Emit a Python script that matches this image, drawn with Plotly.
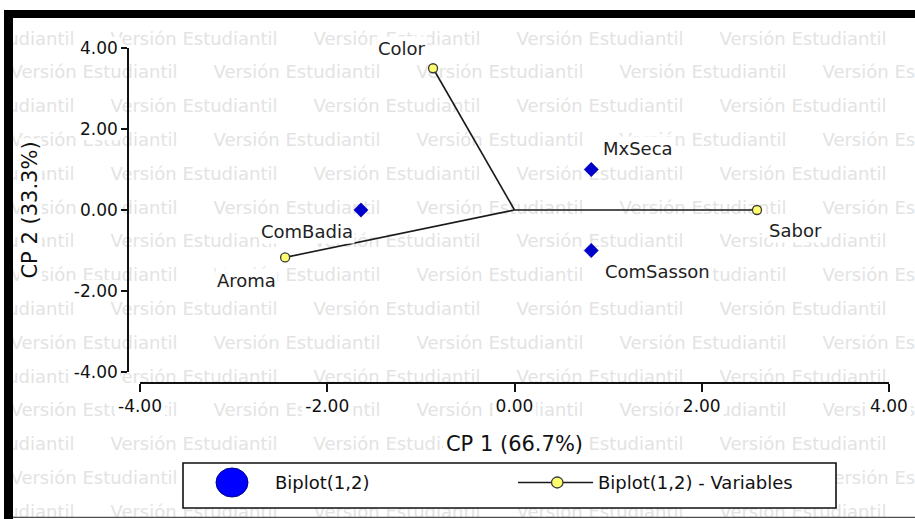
import plotly.graph_objects as go

# ---------------- data ----------------
obs_names = ["MxSeca", "ComBadia", "ComSasson"]
obs_cp1 = [0.82, -1.64, 0.82]
obs_cp2 = [1.00, 0.00, -1.00]

var_names = ["Color", "Sabor", "Aroma"]
var_cp1 = [-0.87, 2.59, -2.45]
var_cp2 = [3.50, 0.00, -1.17]

tick_vals = [-4, -2, 0, 2, 4]
tick_text = ["-4.00", "-2.00", "0.00", "2.00", "4.00"]

x_title = "CP 1 (66.7%)"
y_title = "CP 2 (33.3%)"
legend_labels = ["Biplot(1,2)", "Biplot(1,2) - Variables"]
watermark = "Versión Estudiantil"

# ---------------- geometry / style ----------------
FONT = "DejaVu Sans"
W, H = 915, 519
PX0, PX1 = 140, 889       # x = -4 .. 4 (pixels)
PY0, PY1 = 372, 48        # y = -4 .. 4 (pixels)
YAXIS_X = 128             # detached y axis line
XAXIS_Y = 383             # detached x axis line
XR = [-4, 4]
YR = [-4, 4]
TICK_FS = 17
TITLE_FS = 21


def fx(X):
    return X / W


def fy(Y):
    return (H - Y) / H


def to_px_x(v):
    return PX0 + (v - XR[0]) / (XR[1] - XR[0]) * (PX1 - PX0)


def to_px_y(v):
    return PY0 - (v - YR[0]) / (YR[1] - YR[0]) * (PY0 - PY1)


def text_w(s, size):
    cw = {"-": .361, ".": .318, " ": .318, "(": .39, ")": .39, "%": .95, "C": .698, "P": .603}
    return sum(cw.get(c, .636) for c in s) * size


fig = go.Figure()

# ---- watermark (decoration) on a full-figure pixel subplot (x / y), drawn first ----
wx, wy = [], []
for i in range(15):
    Y = 40 + i * 33.8
    base = 194 if i % 2 == 0 else 94
    for k in range(-1, 5):
        wx.append(base + k * 203)
        wy.append(Y)
fig.add_trace(go.Scatter(
    x=wx, y=wy, xaxis="x", yaxis="y", mode="text", text=[watermark] * len(wx),
    textfont=dict(family=FONT, size=18, color="#e3e3e3"),
    cliponaxis=True, hoverinfo="skip", showlegend=False))

# white patches behind tick labels and axis titles (hide the watermark there)
bx, by = [], []


def patch(X0, Y0, X1, Y1):
    bx.extend([X0, X1, X1, X0, X0, None])
    by.extend([Y0, Y0, Y1, Y1, Y0, None])


for v, t in zip(tick_vals, tick_text):
    w = text_w(t, TICK_FS)
    cx = to_px_x(v)
    patch(cx - w / 2 - 3, 397, cx + w / 2 + 3, 418)
    cy = to_px_y(v)
    patch(117 - w - 3, cy - 11, 120, cy + 11)
w = text_w(x_title, TITLE_FS)
cx = (PX0 + PX1) / 2
patch(cx - w / 2 - 3, 431, cx + w / 2 + 3, 456)
w = text_w(y_title, TITLE_FS)
cy = (PY0 + PY1) / 2
patch(19, cy - w / 2 - 3, 42, cy + w / 2 + 3)
fig.add_trace(go.Scatter(x=bx, y=by, xaxis="x", yaxis="y", mode="lines", fill="toself",
                         fillcolor="white", line=dict(width=0), hoverinfo="skip",
                         showlegend=False))

# ---- biplot on subplot x2 / y2 ----
lx, ly = [], []
for vx, vy in zip(var_cp1, var_cp2):
    lx += [0, vx, None]
    ly += [0, vy, None]
fig.add_trace(go.Scatter(x=lx, y=ly, xaxis="x2", yaxis="y2", mode="lines",
                         line=dict(color="#1a1a1a", width=1.6),
                         hoverinfo="skip", showlegend=False))
fig.add_trace(go.Scatter(x=var_cp1, y=var_cp2, xaxis="x2", yaxis="y2", mode="markers",
                         name=legend_labels[1], text=var_names,
                         marker=dict(symbol="circle", size=9, color="#ffff70",
                                     line=dict(color="#3a3a3a", width=1.3)),
                         showlegend=False))
fig.add_trace(go.Scatter(x=obs_cp1, y=obs_cp2, xaxis="x2", yaxis="y2", mode="markers",
                         name=legend_labels[0], text=obs_names,
                         marker=dict(symbol="diamond", size=11, color="#0000cd",
                                     line=dict(color="#0000a0", width=0.5)),
                         showlegend=False))

# point labels
place = {
    "Color": ("right", -5, 20),
    "MxSeca": ("left", 10, 21),
    "ComBadia": ("right", -6, -22),
    "Aroma": ("right", -7, -23),
    "Sabor": ("left", 10, -21),
    "ComSasson": ("left", 12, -21),
}
annotations = []
for names, xs, ys in ((var_names, var_cp1, var_cp2), (obs_names, obs_cp1, obs_cp2)):
    for n, x, y in zip(names, xs, ys):
        anc, sx, sy = place[n]
        annotations.append(dict(
            x=x, y=y, xref="x2", yref="y2", text=n, showarrow=False,
            xanchor=anc, yanchor="middle", xshift=sx, yshift=sy,
            bgcolor="white", borderpad=1,
            font=dict(family=FONT, size=18, color="#222222")))

shapes = []


def rect(X0, Y0, X1, Y1, kind="rect", **kw):
    shapes.append(dict(type=kind, xref="paper", yref="paper",
                       x0=fx(X0), x1=fx(X1), y0=fy(Y1), y1=fy(Y0), layer="above", **kw))


# frame
rect(0, 0, 4, H, fillcolor="white", line=dict(width=0))
rect(0, 0, W, 10, fillcolor="white", line=dict(width=0))
rect(4, 10, W, 18, fillcolor="black", line=dict(width=0))
rect(4, 10, 13, H, fillcolor="black", line=dict(width=0))
rect(13, 518, W, H, fillcolor="white", line=dict(width=0))
rect(13, 516.8, W, 518, fillcolor="#505050", line=dict(width=0))

# legend (manual, to reproduce the large symbols)
rect(183, 463, 836, 508, fillcolor="white", line=dict(color="#111111", width=1.6))
rect(216, 468, 248, 497, kind="circle", fillcolor="#0000ff",
     line=dict(color="#00008b", width=1))
shapes.append(dict(type="line", xref="paper", yref="paper", x0=fx(518), x1=fx(593),
                   y0=fy(482.5), y1=fy(482.5), layer="above",
                   line=dict(color="#1a1a1a", width=1.6)))
rect(551.5, 477, 563, 488, kind="circle", fillcolor="#ffff70",
     line=dict(color="#3a3a3a", width=1.3))
for lbl, X in zip(legend_labels, [273, 596]):
    annotations.append(dict(x=fx(X), y=fy(482.5), xref="paper", yref="paper", text=lbl,
                            showarrow=False, xanchor="left", yanchor="middle",
                            font=dict(family=FONT, size=18, color="#111111")))

axis_common = dict(
    anchor="free", showline=True, linecolor="#111111",
    linewidth=1.6, ticks="outside", tickcolor="#111111", tickwidth=1.6,
    tickvals=tick_vals, ticktext=tick_text, showgrid=False, zeroline=False,
    tickfont=dict(family=FONT, size=TICK_FS, color="#111111"),
)
hidden = dict(visible=False, showgrid=False, zeroline=False, fixedrange=True)

fig.update_layout(
    width=W, height=H, margin=dict(l=0, r=0, t=0, b=0, autoexpand=False),
    paper_bgcolor="white", plot_bgcolor="rgba(0,0,0,0)",
    showlegend=False,
    xaxis=dict(hidden, domain=[0, 1], range=[0, W]),
    yaxis=dict(hidden, domain=[0, 1], range=[H, 0]),
    xaxis2=dict(axis_common, domain=[fx(PX0), fx(PX1)], range=XR, ticklen=8,
                position=fy(XAXIS_Y),
                title=dict(text=x_title, standoff=20,
                           font=dict(family=FONT, size=TITLE_FS, color="#111111"))),
    yaxis2=dict(axis_common, domain=[fy(PY0), fy(PY1)], range=YR, ticklen=6,
                position=fx(YAXIS_X),
                title=dict(text=y_title, standoff=29,
                           font=dict(family=FONT, size=TITLE_FS, color="#111111"))),
    shapes=shapes, annotations=annotations,
    font=dict(family=FONT),
)

fig.write_html("out.html", config={"displayModeBar": False},
               post_script="document.body.style.margin='0';")
